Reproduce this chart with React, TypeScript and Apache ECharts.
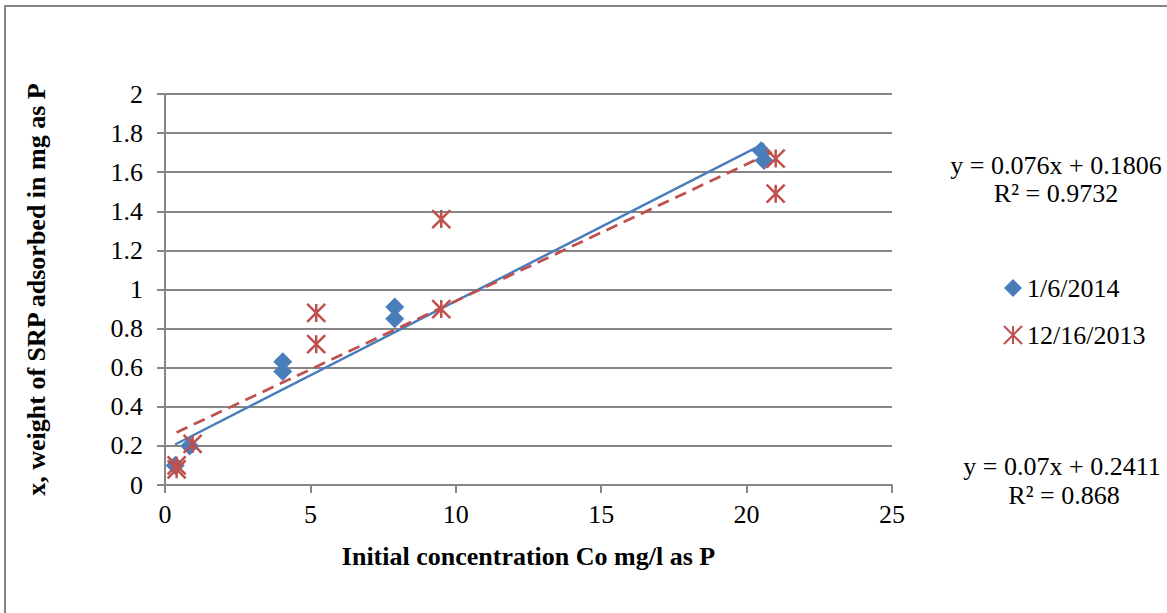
import React, { useEffect, useRef } from "react";
import * as echarts from "echarts";

const blueX = [0.35, 0.85, 4.05, 4.05, 7.9, 7.9, 20.5, 20.6];
const blueY = [0.1, 0.2, 0.63, 0.58, 0.91, 0.85, 1.71, 1.66];
const redX = [0.4, 0.4, 0.95, 5.2, 5.2, 9.5, 9.5, 21.0, 21.0];
const redY = [0.08, 0.1, 0.21, 0.88, 0.72, 0.9, 1.36, 1.67, 1.49];
const blueName = "1/6/2014";
const redName = "12/16/2013";
const blueTrend = { slope: 0.076, intercept: 0.1806, r2: "0.9732" };
const redTrend = { slope: 0.07, intercept: 0.2411, r2: "0.868" };
const blueEq = "y = 0.076x + 0.1806";
const redEq = "y = 0.07x + 0.2411";
const xTitle = "Initial concentration Co mg/l as P";
const yTitle = "x, weight of SRP adsorbed in mg as P";

const BLUE = "#4a7ebb";
const RED = "#c0504d";
const GRAY = "#868686";
const FONT = "'Liberation Serif', 'Times New Roman', serif";
const FS = 26;
const STAR = "path://M0 0L20 20M20 0L0 20M10 0L10 20";

function trendLine(xs: number[], t: { slope: number; intercept: number }) {
  const lo = Math.min(...xs);
  const hi = Math.max(...xs);
  return [
    [lo, t.slope * lo + t.intercept],
    [hi, t.slope * hi + t.intercept],
  ];
}

export default function App() {
  const ref = useRef<HTMLDivElement>(null);
  useEffect(() => {
    document.body.style.margin = "0";
    const chart = echarts.init(ref.current!, undefined, { renderer: "svg" });
    const eqStyle = (text: string) => ({
      text,
      font: `${FS}px ${FONT}`,
      fill: "#000",
      align: "center",
      verticalAlign: "middle",
    });
    chart.setOption({
      animation: false,
      backgroundColor: "#ffffff",
      textStyle: { fontFamily: FONT },
      grid: { left: 165, right: 275, top: 94, bottom: 128 },
      xAxis: {
        type: "value",
        min: 0,
        max: 25,
        interval: 5,
        name: xTitle,
        nameLocation: "middle",
        nameGap: 58,
        nameTextStyle: { fontFamily: FONT, fontSize: FS, fontWeight: "bold", color: "#000" },
        axisLine: { show: true, lineStyle: { color: GRAY, width: 2 } },
        axisTick: { show: true, length: 8, lineStyle: { color: GRAY, width: 2 } },
        axisLabel: { fontFamily: FONT, fontSize: FS, color: "#000", margin: 16 },
        splitLine: { show: false },
      },
      yAxis: {
        type: "value",
        min: 0,
        max: 2,
        interval: 0.2,
        name: yTitle,
        nameLocation: "middle",
        nameRotate: 90,
        nameGap: 116,
        nameTextStyle: { fontFamily: FONT, fontSize: FS, fontWeight: "bold", color: "#000" },
        axisLine: { show: true, lineStyle: { color: GRAY, width: 2 } },
        axisTick: { show: true, length: 8, lineStyle: { color: GRAY, width: 2 } },
        axisLabel: { fontFamily: FONT, fontSize: FS, color: "#000", margin: 22 },
        splitLine: { show: true, lineStyle: { color: GRAY, width: 2 } },
      },
      legend: {
        orient: "vertical",
        left: 998,
        top: 270,
        itemWidth: 18,
        itemHeight: 18,
        itemGap: 21,
        data: [blueName, redName],
        textStyle: { fontFamily: FONT, fontSize: FS, color: "#000" },
      },
      graphic: [
        {
          type: "rect",
          shape: { x: 5, y: 6, width: 1300, height: 800 },
          style: { fill: "none", stroke: GRAY, lineWidth: 2 },
          silent: true,
        },
        { type: "text", x: 1056, y: 165, style: eqStyle(blueEq) },
        { type: "text", x: 1056, y: 193, style: eqStyle("R² = " + blueTrend.r2) },
        { type: "text", x: 1062, y: 466, style: eqStyle(redEq) },
        { type: "text", x: 1064, y: 495, style: eqStyle("R² = " + redTrend.r2) },
      ],
      series: [
        {
          name: blueName + " trend",
          type: "line",
          data: trendLine(blueX, blueTrend),
          showSymbol: false,
          symbol: "none",
          lineStyle: { color: BLUE, width: 2.5 },
          z: 2,
        },
        {
          name: redName + " trend",
          type: "line",
          data: trendLine(redX, redTrend),
          showSymbol: false,
          symbol: "none",
          lineStyle: { color: RED, width: 2.75, type: [12, 7] },
          z: 2,
        },
        {
          name: blueName,
          type: "scatter",
          data: blueX.map((x, i) => [x, blueY[i]]),
          symbol: "diamond",
          symbolSize: 19,
          itemStyle: { color: BLUE, opacity: 1 },
          z: 3,
        },
        {
          name: redName,
          type: "scatter",
          data: redX.map((x, i) => [x, redY[i]]),
          symbol: STAR,
          symbolSize: 18,
          itemStyle: { color: RED, borderColor: RED, borderWidth: 2.5, opacity: 1 },
          z: 4,
        },
      ],
    });
    return () => chart.dispose();
  }, []);
  return <div ref={ref} style={{ width: 1167, height: 613 }} />;
}
